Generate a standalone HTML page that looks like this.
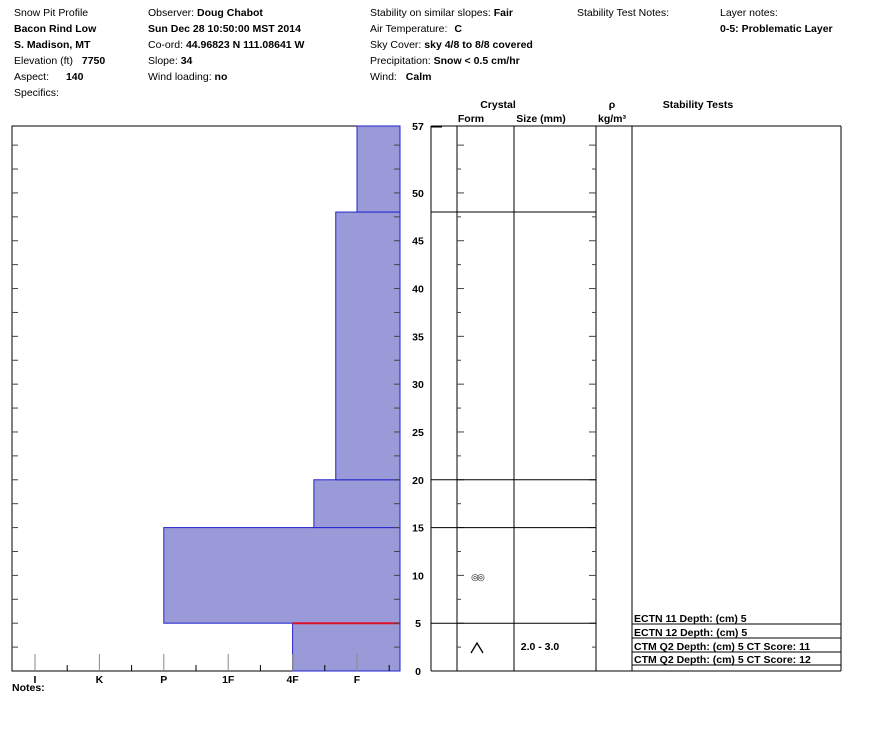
<!DOCTYPE html>
<html><head><meta charset="utf-8"><style>
body{margin:0;background:#fff;width:888px;height:750px;overflow:hidden;font-family:"Liberation Sans",Arial,sans-serif;}
svg{display:block}
text{font-family:"Liberation Sans",Arial,sans-serif;font-size:10.5px;fill:#000}
.b{font-weight:bold}
</style></head><body>
<svg id="chart" width="888" height="750">
<g>
<text x="14" y="16">Snow Pit Profile</text>
<text x="14" y="32" class="b">Bacon Rind Low</text>
<text x="14" y="48" class="b">S. Madison, MT</text>
<text x="14" y="64">Elevation (ft)  <tspan class="b" dx="6">7750</tspan></text>
<text x="14" y="80">Aspect:  <tspan class="b" dx="14">140</tspan></text>
<text x="14" y="96">Specifics:</text>
<text x="148" y="16">Observer:  <tspan class="b">Doug Chabot</tspan></text>
<text x="148" y="32" class="b">Sun Dec 28 10:50:00 MST 2014</text>
<text x="148" y="48">Co-ord:  <tspan class="b">44.96823 N 111.08641 W</tspan></text>
<text x="148" y="64">Slope:  <tspan class="b">34</tspan></text>
<text x="148" y="80">Wind loading:  <tspan class="b">no</tspan></text>
<text x="370" y="16">Stability on similar slopes:  <tspan class="b">Fair</tspan></text>
<text x="370" y="32">Air Temperature:  <tspan class="b" dx="4">C</tspan></text>
<text x="370" y="48">Sky Cover:  <tspan class="b">sky 4/8 to 8/8 covered</tspan></text>
<text x="370" y="64">Precipitation:  <tspan class="b">Snow &lt; 0.5 cm/hr</tspan></text>
<text x="370" y="80">Wind:  <tspan class="b" dx="6">Calm</tspan></text>
<text x="577" y="16">Stability Test Notes:</text>
<text x="720" y="16">Layer notes:</text>
<text x="720" y="32" class="b">0-5: Problematic Layer</text>
</g>
<g id="plot"></g>
<text x="12" y="691" class="b">Notes:</text>
</svg>
<script>
const hardLabels=["I","K","P","1F","4F","F"];
const layerTop=[5,15,20,48,57];
const layerBottom=[0,5,15,20,48];
const layerHard=[4,2,4.33,4.67,5];
const depthTicks=[0,5,10,15,20,25,30,35,40,45,50,57];
const tests=["ECTN 11   Depth: (cm) 5","ECTN 12   Depth: (cm) 5","CTM Q2 Depth: (cm) 5 CT Score: 11","CTM Q2 Depth: (cm) 5 CT Score: 12"];
const maxDepth=57;
const NS="http://www.w3.org/2000/svg";
const g=document.getElementById('plot');
const y=d=>671-(d/maxDepth)*545;
const x=h=>35+h*64.4;
function mk(t,a,p){const e=document.createElementNS(NS,t);for(const k in a)e.setAttribute(k,a[k]);(p||g).appendChild(e);return e;}
// left frame
let fr=mk('rect',{x:12,y:126,width:388,height:545,fill:'none',stroke:'#000','stroke-width':1});


// bars
for(let i=0;i<layerTop.length;i++){
 const b=mk('rect',{x:x(layerHard[i]),y:y(layerTop[i]),width:400-x(layerHard[i]),height:y(layerBottom[i])-y(layerTop[i]),fill:'#9a9ad8',stroke:'#2222cc','stroke-width':1});
 
 
}
// red problematic line at 5
let rl=mk('line',{x1:x(4),x2:400,y1:y(5),y2:y(5),stroke:'#e0102a','stroke-width':2});


// left axis minor ticks
for(let d=2.5;d<maxDepth;d+=2.5){
 mk('line',{x1:12,x2:18,y1:y(d),y2:y(d),stroke:'#444'});
 mk('line',{x1:394,x2:400,y1:y(d),y2:y(d),stroke:'#444'});
}
// hardness ticks
for(let i=0;i<hardLabels.length;i++){
 mk('line',{x1:x(i),x2:x(i),y1:654,y2:671,stroke:'#888'});
 mk('line',{x1:x(i+0.5),x2:x(i+0.5),y1:665,y2:671,stroke:'#000'});
 const t=mk('text',{x:x(i),y:683,'text-anchor':'middle',class:'b'});t.textContent=hardLabels[i];
 
 
}
// depth labels
depthTicks.forEach(d=>{const t=mk('text',{x:418,y:y(d)+4,'text-anchor':'middle',class:'b'});t.textContent=d;
 
 });
// table
mk('line',{x1:431,x2:442,y1:127,y2:127,stroke:'#000'});
mk('line',{x1:431,x2:841,y1:126,y2:126,stroke:'#000'});
mk('line',{x1:431,x2:841,y1:671,y2:671,stroke:'#000'});
[431,457,514,596,632,841].forEach(cx=>mk('line',{x1:cx,x2:cx,y1:126,y2:671,stroke:'#000'}));
for(let d=2.5;d<maxDepth;d+=2.5){
 const w=(d%5===0)?7:4;
 mk('line',{x1:457,x2:457+w,y1:y(d),y2:y(d),stroke:'#444'});
 mk('line',{x1:596-w,x2:596,y1:y(d),y2:y(d),stroke:'#444'});
}
layerTop.slice(0,4).forEach(d=>mk('line',{x1:431,x2:596,y1:y(d),y2:y(d),stroke:'#000'}));
[["Crystal",498,108],["Form",471,122],["Size (mm)",541,122],["ρ",612,108],["kg/m³",612,122],["Stability Tests",698,108]].forEach(a=>{
 const t=mk('text',{x:a[1],y:a[2],'text-anchor':'middle',class:'b'});t.textContent=a[0];
 
 });
// grain symbols
let s1=mk('text',{x:477,y:580,'text-anchor':'middle','font-size':'13'});s1.textContent='◎◎';s1.setAttribute('style','font-size:9px;letter-spacing:-2px');


mk('path',{d:'M471 653 L477 643 L483 653',fill:'none',stroke:'#000','stroke-width':1.3});
let sz=mk('text',{x:540,y:650,'text-anchor':'middle',class:'b'});sz.textContent='2.0 - 3.0';


// stability tests
const rows=[624,638,652,665];
tests.forEach((s,i)=>{
 mk('line',{x1:632,x2:841,y1:rows[i],y2:rows[i],stroke:'#000'});
 const t=mk('text',{x:634,y:rows[i]-2,class:'b'});t.textContent=s;
 
 
});
mk('line',{x1:632,x2:841,y1:665,y2:665,stroke:'#000'});
</script>
</body></html>
